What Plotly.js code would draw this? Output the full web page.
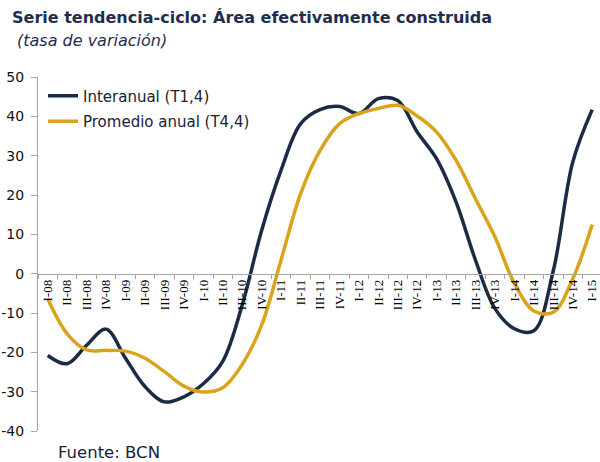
<!DOCTYPE html>
<html>
<head>
<meta charset="utf-8">
<script src="https://cdn.plot.ly/plotly-3.0.1.min.js"></script>
<style>
html,body{margin:0;padding:0;background:#fff;overflow:hidden;}
#chart{width:600px;height:462px;}
</style>
</head>
<body>
<div id="chart"></div>
<script>
var categories = ["I-08","II-08","III-08","IV-08","I-09","II-09","III-09","IV-09","I-10","II-10","III-10","IV-10","I-11","II-11","III-11","IV-11","I-12","II-12","III-12","IV-12","I-13","II-13","III-13","IV-13","I-14","II-14","III-14","IV-14","I-15"];
var interanual = [-20.8,-22.9,-18.2,-14.1,-21.5,-28.7,-32.6,-31.3,-28.0,-22.3,-8.0,11.0,26.3,38.1,41.7,42.5,40.7,44.5,44.0,36.0,29.2,18.2,3.4,-8.9,-14.0,-14.5,0.8,28.4,41.7];
var promedio = [-6.4,-15.3,-19.4,-19.5,-19.7,-21.5,-24.9,-28.6,-30.1,-29.0,-23.1,-13.1,3.5,20.3,31.3,38.1,40.7,42.0,42.8,40.1,36.0,28.8,19.0,9.3,-2.5,-9.5,-9.8,-1.3,12.5];
var seriesNames = ["Interanual (T1,4)", "Promedio anual (T4,4)"];
var yTicks = [-40,-30,-20,-10,0,10,20,30,40,50];
var yTickText = ["-40","-30","-20","-10","0","10","20","30","40","50"];

var navy = "#1c2b45";
var gold = "#d9a31b";
var sans = "DejaVu Sans, Verdana, sans-serif";

var traces = [
  {x: categories, y: interanual, name: seriesNames[0], type: "scatter", mode: "lines",
   line: {color: navy, width: 3.5, shape: "spline", smoothing: 1}, legendgroup: "a"},
  {x: categories, y: promedio, name: seriesNames[1], type: "scatter", mode: "lines",
   line: {color: gold, width: 3.5, shape: "spline", smoothing: 1}, legendgroup: "b"}
];

var plotW = 562, plotH = 354.1;

var layout = {
  width: 600, height: 462,
  margin: {l: 38, r: 0, t: 76.6, b: 31.3, autoexpand: false},
  paper_bgcolor: "#ffffff", plot_bgcolor: "#ffffff",
  showlegend: true,
  title: {
    text: "<b>Serie tendencia-ciclo: Área efectivamente construida</b>",
    font: {family: sans, size: 16, color: "#1f2d4e"},
    x: 12/600, xanchor: "left", xref: "container",
    y: 1 - 17/462, yanchor: "middle", yref: "container"
  },
  xaxis: {
    type: "category",
    categoryorder: "array", categoryarray: categories,
    tickmode: "array", tickvals: categories, ticktext: categories,
    range: [-0.5, 28.4],
    anchor: "free", position: 40/90,
    showline: true, linecolor: "#a6a6a6", linewidth: 1,
    ticks: "outside", tickson: "boundaries", ticklen: 4, tickcolor: "#a6a6a6",
    tickangle: -90,
    tickfont: {family: "Liberation Serif, Times New Roman, serif", size: 13, color: "#000000"},
    showgrid: false, zeroline: false, automargin: false, fixedrange: true
  },
  yaxis: {
    range: [-40, 50],
    tickmode: "array", tickvals: yTicks, ticktext: yTickText,
    showline: true, linecolor: "#a6a6a6", linewidth: 1,
    ticks: "outside", ticklen: 6, tickcolor: "#a6a6a6",
    ticklabelstandoff: 4,
    tickfont: {family: sans, size: 14, color: "#111111"},
    showgrid: false, zeroline: false, automargin: false, fixedrange: true
  },
  legend: {
    xref: "paper", yref: "paper",
    x: 5/plotW, xanchor: "left",
    y: 1 - (79-76.6)/plotH, yanchor: "top",
    bgcolor: "rgba(0,0,0,0)", borderwidth: 0,
    font: {family: sans, size: 15, color: "#1a2233"},
    traceorder: "grouped", tracegroupgap: 3
  },
  annotations: [
    {text: "<i>(tasa de variación)</i>", xref: "paper", yref: "paper",
     x: (15-38)/plotW, xanchor: "left", y: 1 + (76.6-40)/plotH, yanchor: "middle",
     showarrow: false, font: {family: sans, size: 16, color: "#1f2d4e"}},
    {text: "Fuente: BCN", xref: "paper", yref: "paper",
     x: (56-38)/plotW, xanchor: "left", y: -(452-430.7)/plotH, yanchor: "middle",
     showarrow: false, font: {family: sans, size: 16.5, color: "#1a2233"}}
  ]
};

Plotly.newPlot("chart", traces, layout, {staticPlot: true, displayModeBar: false});
</script>
</body>
</html>
